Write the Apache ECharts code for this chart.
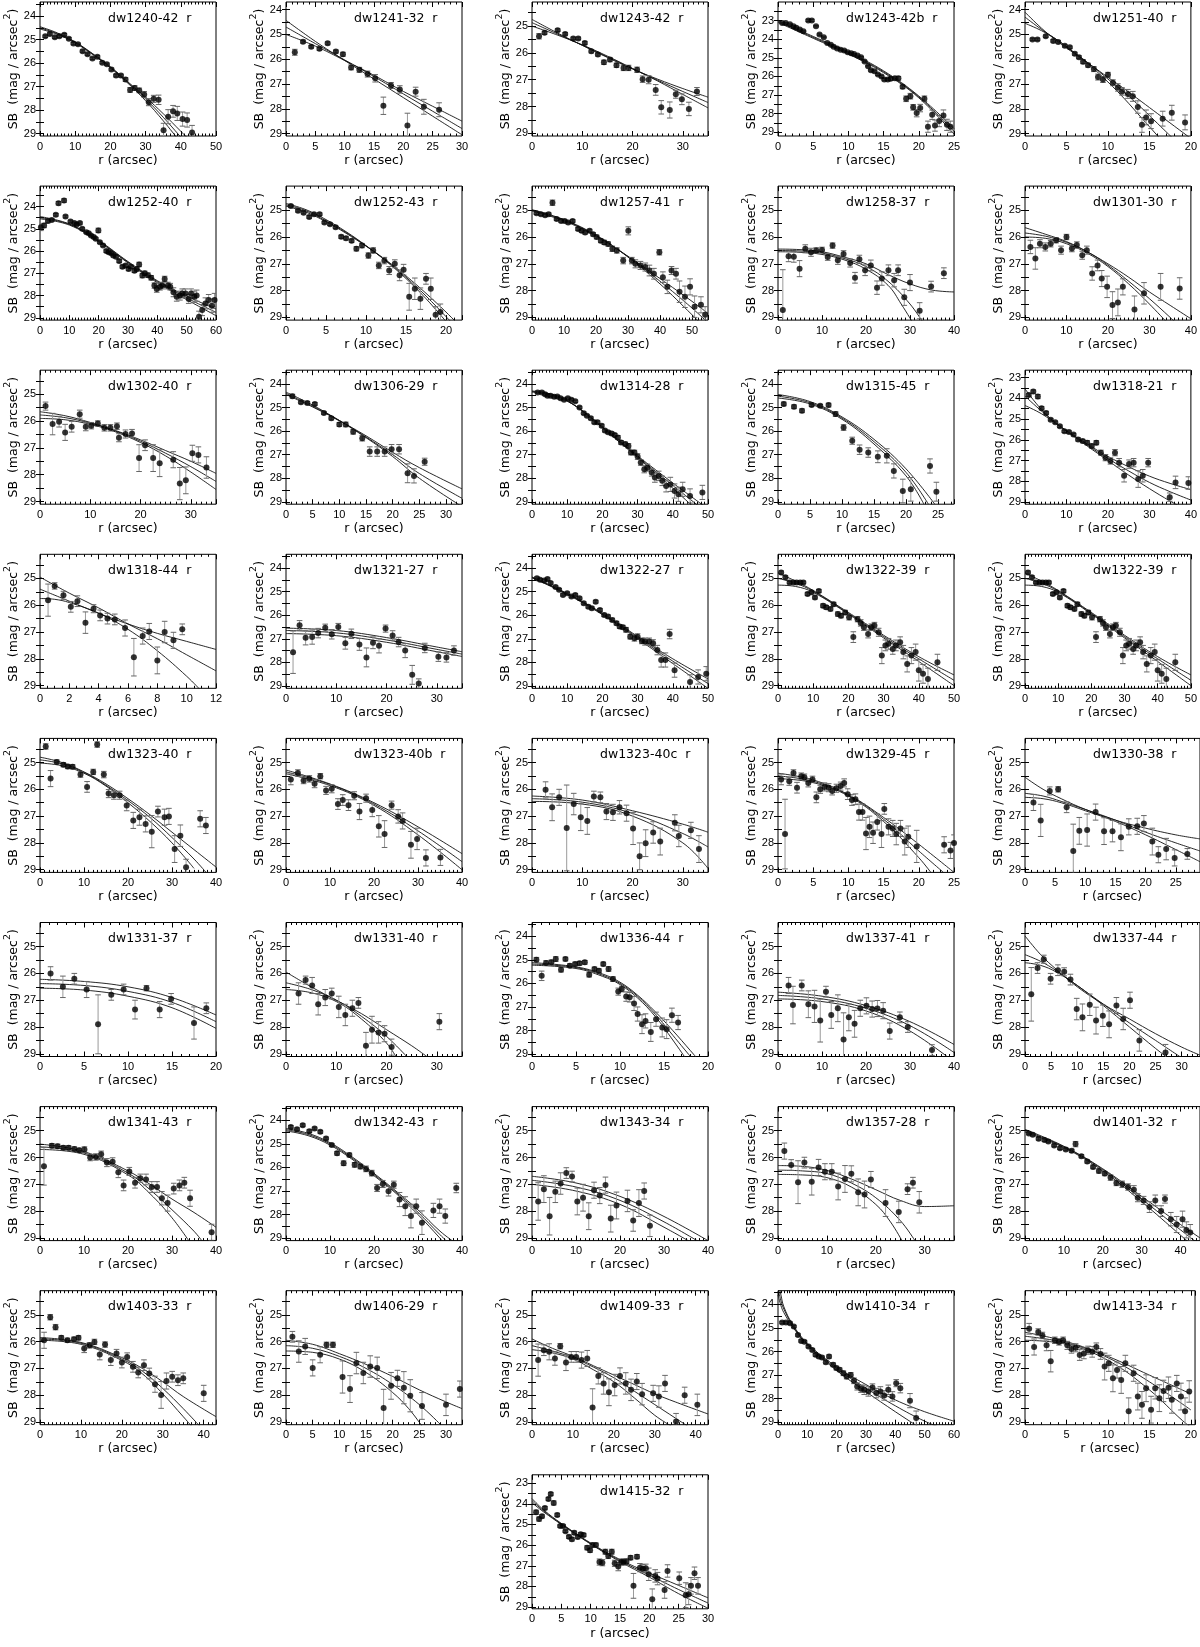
<!DOCTYPE html>
<html><head><meta charset="utf-8">
<script src="https://cdn.jsdelivr.net/npm/echarts@6/dist/echarts.min.js"></script>
<style>html,body{margin:0;padding:0;background:#fff}#c{width:1200px;height:1647px}</style>
</head><body><div id="c"></div>
<script>
// ---------- panel meta ----------
const panelNames = ['dw1240-42','dw1241-32','dw1243-42','dw1243-42b','dw1251-40',
 'dw1252-40','dw1252-43','dw1257-41','dw1258-37','dw1301-30',
 'dw1302-40','dw1306-29','dw1314-28','dw1315-45','dw1318-21',
 'dw1318-44','dw1321-27','dw1322-27','dw1322-39','dw1322-39',
 'dw1323-40','dw1323-40b','dw1323-40c','dw1329-45','dw1330-38',
 'dw1331-37','dw1331-40','dw1336-44','dw1337-41','dw1337-44',
 'dw1341-43','dw1342-43','dw1343-34','dw1357-28','dw1401-32',
 'dw1403-33','dw1406-29','dw1409-33','dw1410-34','dw1413-34','dw1415-32'];
const panelXMax = [50,30,35,25,20, 60,22,55,40,40, 35,33,50,27.5,40, 12,35,50,50,50, 40,40,35,25,29, 20,35,20,40,33.5, 40,40,40,36,45, 43,33,43,60,20.5,30];
const panelXStep = [10,5,10,5,5, 10,5,10,10,10, 10,5,10,5,10, 2,10,10,10,10, 10,10,10,5,5, 5,10,5,10,5, 10,10,10,10,10, 10,5,10,10,5,5];
const panelYTop = [23.4,23.69,24.1,22.0,23.69, 23.08,24.1,24.1,24.1,24.1, 24.1,23.42,23.42,23.42,22.65, 24.1,23.42,23.42,24.1,24.1, 24.1,24.1,24.1,24.1,24.1, 24.1,24.1,23.42,24.1,24.1, 24.1,23.42,24.1,24.1,24.1, 24.1,24.1,24.1,23.42,24.1,22.6];
const panelYBottom = [29.1,29.1,29.1,29.2,29.1, 29.1,29.1,29.1,29.1,29.1, 29.1,29.1,29.1,29.1,29.1, 29.1,29.1,29.1,29.1,29.1, 29.1,29.1,29.1,29.1,29.1, 29.1,29.1,29.1,29.1,29.1, 29.1,29.1,29.1,29.1,29.1, 29.1,29.1,29.1,29.1,29.1,29.08];

// ---------- data: [r, SB, err] and fit curves [r, SB] ----------
const pts01 = [[1.5,24.86,.05],[2.8,24.76,.05],[4.2,24.9,.05],[5.5,24.86,.05],[6.9,24.79,.05],[8.2,24.96,.05],[9.5,25.17,.05],[10.8,25.2,.05],[12.1,25.49,.05],[13.5,25.62,.05],[14.9,25.8,.05],[16.3,25.73,.05],[17.7,25.98,.05],[19,26.05,.05],[20.3,26.27,.06],[21.6,26.53,.06],[23,26.53,.06],[24.3,26.7,.08],[25.6,27.14,.1],[26.9,27.06,.1],[28.2,27.16,.1],[29.6,27.33,.12],[30.9,27.66,.15],[32.3,27.52,.15],[33.7,27.56,.2],[35.1,28.86,.3],[36.4,28.28,.3],[37.8,28.05,.25],[39,28.14,.3],[40.5,28.38,.3],[41.8,28.42,.3],[43.2,28.95,.3]];
const fit01a = [[0,24.45],[5,24.72],[10,25.1],[15,25.6],[20,26.15],[25,26.8],[30,27.45],[35,28.15],[40,28.9],[43,29.35]];
const fit01b = [[0,24.5],[5,24.75],[10,25.12],[15,25.62],[20,26.18],[25,26.83],[30,27.52],[35,28.3],[40,29.15]];
const fit01c = [[0,24.55],[5,24.78],[10,25.14],[15,25.64],[20,26.2],[25,26.86],[30,27.6],[35,28.45],[39,29.2]];

const pts02 = [[1.5,25.72,.12],[2.9,25.29,.06],[4.3,25.5,.05],[5.7,25.58,.06],[7.1,25.36,.06],[8.5,25.69,.06],[9.7,25.8,.08],[11.1,26.33,.1],[12.5,26.43,.1],[13.9,26.6,.12],[15.2,26.77,.15],[16.6,27.88,.35],[17.9,27.06,.12],[19.4,27.22,.15],[20.7,28.68,.5],[22.1,27.31,.18],[23.5,27.92,.3],[26.1,28.04,.28]];
const fit02a = [[0,24.43],[5,25.28],[10,26.05],[15,26.8],[20,27.55],[25,28.3],[30,29.05]];
const fit02b = [[0,24.7],[5,25.37],[10,26.03],[15,26.7],[20,27.4],[25,28.1],[30,28.8]];
const fit02c = [[0,25.0],[5,25.47],[10,26.05],[15,26.65],[20,27.3],[25,27.9],[30,28.5]];

const pts03 = [[1.4,25.38,.1],[2.5,25.25,.06],[5.1,25.15,.05],[6.6,25.29,.05],[8.2,25.46,.05],[9.2,25.46,.05],[10.5,25.63,.06],[11.8,25.94,.06],[13.1,26.06,.06],[14.3,26.35,.08],[15.5,26.25,.08],[16.8,26.46,.08],[18.2,26.56,.1],[19.2,26.56,.1],[20.9,26.63,.1],[22,26.98,.12],[23.2,27.0,.15],[24.6,27.38,.2],[25.7,28.03,.25],[27.4,28.13,.3],[28.6,27.54,.15],[29.8,27.73,.2],[31.2,28.09,.25],[32.8,27.44,.15]];
const fit03a = [[0,24.75],[5,25.25],[10,25.72],[15,26.17],[20,26.6],[25,26.98],[30,27.33],[35,27.65]];
const fit03b = [[0,24.87],[5,25.29],[10,25.71],[15,26.15],[20,26.59],[25,27.02],[30,27.44],[35,27.85]];
const fit03c = [[0,25.0],[5,25.33],[10,25.7],[15,26.12],[20,26.58],[25,27.05],[30,27.55],[35,28.05]];

const pts04 = [[0.6,23.13,.03],[1.1,23.13,.03],[1.7,23.2,.03],[2.2,23.3,.03],[2.6,23.38,.03],[3.1,23.48,.03],[3.6,23.57,.03],[4.3,22.99,.06],[4.8,22.99,.06],[5.4,23.3,.04],[5.9,23.75,.04],[6.5,23.9,.03],[7,24.2,.03],[7.5,24.3,.03],[7.9,24.4,.03],[8.4,24.5,.03],[8.9,24.57,.03],[9.4,24.6,.03],[9.9,24.7,.03],[10.4,24.75,.03],[10.8,24.8,.03],[11.3,24.88,.03],[11.8,24.97,.04],[12.3,25.2,.04],[12.8,25.45,.04],[13.2,25.67,.05],[13.7,25.72,.05],[14.2,25.9,.05],[14.7,26.0,.06],[15.1,26.17,.06],[15.6,26.17,.06],[16,26.13,.08],[16.6,26.1,.08],[17.1,26.1,.1],[17.7,26.56,.1],[18.2,27.2,.15],[18.8,27.06,.15],[19.2,27.66,.15],[19.7,27.97,.2],[20.2,27.7,.2],[20.8,27.2,.15],[21.3,28.7,.3],[21.9,28.06,.25],[22.3,28.64,.3],[22.9,28.4,.3],[23.5,28.1,.3],[24,28.6,.3],[24.5,28.7,.3]];
const fit04a = [[0,23.0],[5,23.85],[10,24.7],[15,25.7],[20,27.05],[25,28.8]];
const fit04b = [[0,23.05],[5,23.9],[10,24.75],[15,25.75],[20,27.1],[25,28.95]];
const fit04c = [[0,23.1],[5,23.95],[10,24.8],[15,25.8],[20,27.15],[25,29.1]];

const pts05 = [[0.9,25.2,.05],[1.5,25.2,.05],[2.5,25.07,.05],[3.4,25.26,.05],[4,25.3,.05],[4.8,25.46,.05],[5.4,25.52,.05],[6,25.78,.06],[6.5,25.92,.06],[7,26.1,.08],[7.6,26.24,.08],[8.3,26.4,.1],[8.8,26.72,.12],[9.4,26.82,.12],[10,26.63,.1],[10.6,26.95,.12],[11.2,27.14,.15],[11.7,27.3,.15],[12.4,27.4,.18],[13,27.5,.2],[13.6,27.93,.25],[14.1,28.65,.3],[14.6,28.35,.3],[15.2,28.5,.3],[16.6,28.4,.3],[17.7,28.16,.3],[19.3,28.55,.3]];
const fit05a = [[0,24.55],[2,24.85],[4,25.25],[6,25.75],[8,26.3],[10,26.92],[12,27.6],[14,28.35],[16,29.1],[17,29.5]];
const fit05b = [[0,24.3],[2,24.8],[4,25.25],[6,25.75],[8,26.25],[10,26.8],[12,27.35],[14,27.95],[16,28.6],[18,29.25]];
const fit05c = [[0,24.1],[2,24.75],[4,25.3],[6,25.78],[8,26.25],[10,26.73],[12,27.2],[14,27.7],[16,28.2],[18,28.7],[20,29.2]];

const pts06 = [[0.3,24.93,.15],[1.4,24.85,.1],[2.7,24.65,.08],[4,24.6,.06],[5.4,24.37,.06],[6.3,23.85,.08],[8.2,23.73,.08],[8.7,24.45,.06],[10.4,24.67,.06],[11.7,24.74,.05],[12.5,24.8,.05],[13.6,24.74,.05],[14.4,25.0,.05],[15.8,25.15,.05],[16.6,25.2,.05],[17.4,25.3,.05],[18.3,25.37,.05],[19,25.45,.05],[19.9,25.07,.1],[20.4,25.6,.05],[21.5,25.75,.05],[22.6,26.0,.06],[23.4,26.05,.06],[24.3,26.1,.06],[25,26.2,.06],[25.9,26.25,.06],[27,26.45,.07],[28.1,26.7,.07],[29.2,26.65,.07],[30.2,26.8,.08],[31,26.7,.08],[32.2,26.88,.08],[33,26.8,.1],[33.8,26.6,.1],[34.9,27.1,.1],[35.7,27.0,.1],[36.8,27.08,.1],[37.9,27.2,.1],[39,27.55,.12],[39.8,27.7,.15],[40.9,27.6,.15],[41.7,27.55,.15],[42.5,27.25,.12],[43.6,27.55,.15],[44.4,27.6,.15],[45.5,27.85,.2],[46.6,28.05,.2],[47.7,28.0,.2],[48.5,27.9,.2],[49.6,27.9,.2],[50.7,28.15,.2],[51.5,27.9,.2],[52.6,28.05,.25],[53.4,28.0,.25],[54.2,28.95,.25],[55.3,28.65,.25],[56.4,28.35,.25],[57.5,28.2,.25],[58.6,28.45,.3],[59.5,28.2,.3]];
const fit06a = [[0,24.45],[10,24.78],[20,25.52],[30,26.47],[40,27.33],[50,28.02],[60,28.6]];
const fit06b = [[0,24.5],[10,24.8],[20,25.55],[30,26.5],[40,27.37],[50,28.1],[60,28.75]];
const fit06c = [[0,24.55],[10,24.83],[20,25.58],[30,26.53],[40,27.42],[50,28.18],[60,28.9]];

const pts07 = [[0.6,24.84,.05],[1.5,25.02,.05],[2.2,25.09,.05],[2.9,25.25,.05],[3.5,25.15,.05],[4.2,25.15,.05],[4.8,25.46,.05],[5.5,25.52,.05],[6.2,25.64,.05],[6.9,25.99,.06],[7.5,26.05,.06],[8.2,26.14,.06],[8.8,26.44,.08],[9.5,26.32,.08],[10.3,26.69,.1],[10.9,26.5,.1],[11.6,27.06,.12],[12.3,26.88,.12],[12.9,27.25,.15],[13.6,27.0,.15],[14.2,27.43,.2],[14.7,27.22,.2],[15.4,28.23,.5],[16.1,27.93,.4],[16.8,28.3,.4],[17.5,27.56,.2],[18.1,27.93,.4],[18.7,28.9,.3],[19.3,28.8,.3]];
const fit07a = [[0,24.75],[2.5,24.98],[5,25.35],[7.5,25.8],[10,26.32],[12.5,26.9],[15,27.55],[17.5,28.3],[20,29.15]];
const fit07b = [[0,24.8],[2.5,25.02],[5,25.4],[7.5,25.83],[10,26.33],[12.5,26.88],[15,27.5],[17.5,28.2],[20,28.97],[22,29.6]];
const fit07c = [[0,24.85],[2.5,25.07],[5,25.43],[7.5,25.86],[10,26.34],[12.5,26.86],[15,27.45],[17.5,28.1],[20,28.8],[22,29.4]];

const pts08 = [[1.4,25.11,.05],[2.8,25.15,.05],[4.1,25.19,.05],[5.2,25.15,.05],[6.4,24.72,.1],[7.7,25.33,.05],[9.1,25.4,.05],[10.2,25.4,.05],[11.3,25.46,.05],[12.7,25.4,.05],[14.4,25.7,.06],[15.5,25.77,.06],[16.6,25.83,.06],[18,25.77,.06],[19.1,25.9,.06],[20.2,26.0,.07],[21.5,26.14,.07],[22.6,26.2,.08],[23.8,26.26,.08],[25.1,26.44,.1],[26.5,26.5,.1],[28.5,26.88,.12],[30.1,25.77,.15],[31.2,26.88,.12],[32.3,27.0,.15],[33.9,27.06,.15],[35.4,27.12,.15],[36.7,27.25,.2],[38.1,27.37,.2],[39.8,26.57,.1],[40.9,27.5,.2],[42.3,27.86,.25],[43.6,27.25,.15],[45,27.37,.2],[46.1,28.04,.4],[47.8,28.23,.4],[49.4,27.86,.3],[50.8,28.6,.4],[52.8,28.53,.3],[54.1,28.9,.3]];
const fit08a = [[0,24.98],[10,25.35],[20,25.93],[30,26.75],[40,27.75],[50,28.9],[55,29.5]];
const fit08b = [[0,25.0],[10,25.37],[20,25.95],[30,26.73],[40,27.65],[50,28.65],[55,29.2]];
const fit08c = [[0,25.03],[10,25.4],[20,25.97],[30,26.72],[40,27.55],[50,28.4],[55,28.85]];

const pts09 = [[1.1,28.72,1.5],[2.4,26.72,.2],[3.6,26.74,.2],[4.9,27.18,.3],[6.2,26.44,.15],[7.5,26.57,.15],[8.7,26.5,.1],[10,26.48,.1],[11.3,26.75,.12],[12.4,26.32,.1],[13.6,26.87,.15],[14.9,26.63,.12],[16.4,26.97,.15],[17.5,27.52,.2],[18.5,26.83,.15],[19.8,27.24,.2],[21.1,27.06,.2],[22.5,27.89,.25],[23.6,27.55,.25],[25.1,27.24,.2],[26.4,27.61,.25],[27.3,27.24,.2],[28.7,28.25,.3],[30,27.7,.3],[32.2,28.75,.3],[34.8,27.85,.2],[37.7,27.35,.2]];
const fit09a = [[0,26.45],[5,26.47],[10,26.55],[15,26.75],[20,27.0],[25,27.4],[30,27.75],[35,27.98],[40,28.05]];
const fit09b = [[0,26.5],[5,26.52],[10,26.6],[15,26.8],[20,27.1],[25,27.65],[30,28.5],[33,29.2]];
const fit09c = [[0,26.55],[5,26.57],[10,26.65],[15,26.85],[20,27.2],[25,27.8],[28,28.5],[31,29.3]];

const pts10 = [[1.3,26.37,.25],[2.5,26.8,.4],[3.6,26.25,.15],[4.9,26.37,.15],[6.2,26.25,.12],[7.5,26.12,.1],[8.7,26.49,.15],[10,26.0,.1],[11.3,26.43,.12],[12.5,26.3,.12],[13.8,26.68,.15],[14.9,26.49,.15],[16.2,27.36,.25],[17.5,27.06,.2],[18.5,27.55,.3],[19.8,27.86,.4],[21.1,28.54,.5],[22.4,28.44,.5],[23.6,27.86,.3],[26.4,28.7,.5],[28.7,28.1,.4],[32.7,27.86,.5],[37.3,27.92,.4]];
const fit10a = [[0,25.65],[5,25.9],[10,26.17],[15,26.55],[20,27.0],[25,27.5],[30,28.05],[35,28.55],[40,29.05]];
const fit10b = [[0,25.85],[5,25.97],[10,26.2],[15,26.55],[20,27.05],[25,27.65],[30,28.3],[35,29.0],[37,29.3]];
const fit10c = [[0,26.0],[5,26.05],[10,26.25],[15,26.6],[20,27.1],[25,27.75],[30,28.5],[34,29.15]];

const pts11 = [[1.1,25.44,.15],[2.5,26.11,.4],[3.8,26.02,.2],[5,26.42,.3],[6.3,26.21,.2],[7.9,25.74,.15],[9.1,26.21,.15],[10.2,26.17,.12],[11.5,26.09,.1],[12.8,26.25,.12],[14,26.25,.12],[15.3,26.19,.12],[15.7,26.62,.15],[17,26.48,.15],[18.3,26.46,.15],[19.7,27.38,.5],[20.9,26.9,.2],[22.5,27.38,.5],[23.8,27.57,.5],[26.5,27.44,.3],[27.8,28.33,.6],[29,28.21,.5],[30.3,27.2,.3],[31.5,27.26,.3],[33.1,27.73,.4]];
const fit11a = [[0,25.65],[5,25.8],[10,26.05],[15,26.35],[20,26.7],[25,27.1],[30,27.5],[35,27.95]];
const fit11b = [[0,25.77],[5,25.87],[10,26.08],[15,26.37],[20,26.75],[25,27.2],[30,27.7],[35,28.25]];
const fit11c = [[0,25.9],[5,25.95],[10,26.12],[15,26.4],[20,26.8],[25,27.3],[30,27.9],[35,28.55]];

const pts12 = [[1.2,24.52,.08],[2.8,24.78,.06],[4,24.81,.06],[5.4,24.85,.06],[7.1,25.23,.06],[8.5,25.46,.07],[10,25.72,.08],[11.2,25.72,.1],[12.6,26.03,.1],[14.3,26.3,.12],[15.7,26.87,.2],[17.1,26.87,.2],[18.5,26.87,.2],[19.8,26.77,.2],[21.2,26.77,.2],[22.8,27.79,.4],[24,27.9,.3],[26,27.3,.15]];
const fit12a = [[0,24.35],[5,24.9],[10,25.55],[15,26.2],[20,26.9],[25,27.55],[33,28.45]];
const fit12b = [[0,24.4],[5,24.95],[10,25.55],[15,26.25],[20,27.0],[25,27.8],[33,28.85]];
const fit12c = [[0,24.45],[5,24.98],[10,25.57],[15,26.28],[20,27.08],[25,28.0],[33,29.2]];

const pts13 = [[1.6,24.36,.05],[2.8,24.36,.05],[3.7,24.44,.05],[4.4,24.5,.05],[5.3,24.5,.05],[6.3,24.55,.05],[7.2,24.54,.05],[8.1,24.61,.05],[9.1,24.67,.05],[10.2,24.61,.05],[11.2,24.67,.05],[12.3,24.74,.05],[13.5,25.0,.05],[14.7,25.24,.05],[15.6,25.35,.05],[16.7,25.46,.06],[17.7,25.63,.06],[18.6,25.63,.06],[19.8,25.77,.06],[20.7,25.98,.06],[21.6,26.05,.06],[22.6,26.1,.07],[23.5,26.17,.07],[24.4,26.27,.08],[25.3,26.48,.08],[26.5,26.55,.08],[27.4,26.63,.1],[28.1,26.91,.1],[29.1,26.91,.1],[30,27.08,.12],[30.9,27.33,.12],[31.9,27.62,.15],[32.8,27.55,.15],[34,27.76,.15],[34.9,27.97,.2],[36,27.9,.2],[37,28.11,.2],[38.1,28.33,.25],[39.3,28.26,.3],[40.5,28.54,.3],[41.6,28.68,.3],[42.8,28.47,.3],[44.9,28.75,.3],[48.4,28.6,.3]];
const fit13a = [[0,24.3],[5,24.42],[10,24.72],[15,25.22],[20,25.82],[25,26.43],[30,27.05],[35,27.63],[40,28.2],[45,28.75],[50,29.3]];
const fit13b = [[0,24.32],[5,24.43],[10,24.72],[15,25.22],[20,25.84],[25,26.46],[30,27.08],[35,27.7],[40,28.3],[45,28.9],[50,29.5]];
const fit13c = [[0,24.35],[5,24.45],[10,24.73],[15,25.23],[20,25.86],[25,26.49],[30,27.12],[35,27.77],[40,28.42],[45,29.1],[50,29.8]];

const pts14 = [[0.9,24.85,.08],[2.5,24.97,.08],[3.75,25.14,.08],[5.25,24.9,.06],[6.6,24.93,.06],[7.9,24.9,.08],[9,25.28,.1],[10.25,25.85,.12],[11.6,26.41,.15],[12.75,26.79,.2],[14.1,26.91,.2],[15.6,27.09,.25],[17,27.05,.3],[18.1,27.69,.3],[19.5,28.54,.5],[20.75,28.47,.5],[23.75,27.48,.3],[24.75,28.57,.4]];
const fit14a = [[0,24.45],[5,24.75],[10,25.4],[15,26.35],[20,27.6],[24.5,29.1]];
const fit14b = [[0,24.52],[5,24.8],[10,25.45],[15,26.45],[20,27.75],[23.5,29.1]];
const fit14c = [[0,24.6],[5,24.85],[10,25.5],[15,26.55],[20,27.9],[22.8,29.1]];

const pts15 = [[0.9,23.84,.08],[2,23.68,.08],[3.1,23.92,.1],[4,24.48,.08],[5.1,24.71,.08],[6.2,25.03,.06],[7.3,25.16,.06],[8.4,25.35,.06],[9.5,25.59,.06],[10.6,25.63,.06],[11.7,25.75,.06],[12.8,25.98,.08],[13.9,26.06,.08],[15,26.14,.1],[16.1,26.3,.1],[17.2,26.14,.1],[18.3,26.62,.12],[19.4,26.86,.15],[20.6,27.02,.15],[21.7,26.62,.15],[22.7,27.1,.2],[23.9,27.73,.3],[25.1,27.17,.2],[26.2,27.1,.2],[27.3,27.89,.4],[28.4,27.73,.3],[29.7,27.1,.2],[34.9,28.76,.2],[36.3,28.05,.3],[39.4,28.08,.3]];
const fit15a = [[0,23.55],[4,24.55],[8,25.28],[15,26.2],[20,26.8],[25,27.3],[30,27.75],[35,28.1],[40,28.4]];
const fit15b = [[0,23.9],[4,24.62],[8,25.27],[15,26.25],[20,26.9],[25,27.5],[30,28.05],[35,28.5],[40,28.9]];
const fit15c = [[0,24.35],[4,24.75],[8,25.3],[15,26.3],[20,27.0],[25,27.7],[30,28.35],[35,28.95],[40,29.5]];

const pts16 = [[0.55,25.81,.6],[1,25.28,.12],[1.6,25.63,.15],[2.1,26.06,.2],[2.55,25.85,.2],[3.1,26.65,.4],[3.65,26.13,.15],[4.1,26.38,.2],[4.6,26.5,.2],[5.1,26.53,.2],[5.8,26.85,.3],[6.4,27.94,.7],[7,27.15,.3],[7.45,26.98,.3],[8,28.06,.5],[8.5,27.0,.4],[9.1,27.31,.3],[9.7,26.9,.2]];
const fit16a = [[0,25.4],[2,25.85],[4,26.3],[6,26.7],[8,27.05],[10,27.35],[12,27.65]];
const fit16b = [[0,24.95],[2,25.55],[4,26.1],[6,26.7],[8,27.25],[10,27.85],[12,28.45]];
const fit16c = [[0,25.75],[1,25.78],[2,25.9],[4,26.3],[6,26.9],[8,27.7],[10,28.65],[11,29.2]];

const pts17 = [[1.4,27.57,.9],[2.7,26.43,.2],[3.9,26.96,.3],[5.2,26.93,.3],[6.4,26.76,.2],[7.8,26.53,.15],[9.1,26.81,.2],[10.4,26.5,.15],[11.8,27.19,.25],[13,26.79,.2],[14.6,27.24,.25],[16,27.79,.4],[17.3,27.17,.25],[18.5,27.3,.3],[19.8,26.57,.15],[21.2,26.86,.2],[22.4,27.14,.2],[23.7,27.5,.3],[25.1,28.53,.4],[26.4,28.9,.2],[27.6,27.39,.2],[30.3,27.76,.2],[31.9,27.79,.2],[33.4,27.5,.2]];
const fit17a = [[0,26.55],[10,26.65],[20,26.95],[30,27.35],[35,27.55]];
const fit17b = [[0,26.65],[10,26.75],[20,27.05],[30,27.45],[35,27.65]];
const fit17c = [[0,26.78],[10,26.87],[20,27.15],[30,27.55],[35,27.75]];

const pts18 = [[1.4,24.43,.05],[2.3,24.5,.05],[3.5,24.53,.05],[4.4,24.47,.05],[5.3,24.64,.05],[6.7,24.81,.05],[7.7,24.92,.05],[8.8,25.14,.05],[10,25.07,.05],[11.2,25.21,.05],[12.3,25.14,.05],[13.5,25.28,.05],[14.7,25.5,.06],[16,25.64,.06],[17,25.71,.06],[18.1,25.43,.06],[19.3,25.78,.06],[20.5,25.99,.07],[21.6,26.06,.07],[22.8,26.2,.07],[24,26.34,.08],[24.9,26.48,.08],[25.8,26.51,.08],[26.7,26.62,.1],[27.9,26.91,.1],[29.1,26.98,.12],[30,26.91,.12],[31.2,27.09,.12],[32.1,27.12,.15],[33.3,27.12,.15],[34.4,27.19,.15],[35.6,27.48,.2],[36.7,27.9,.3],[37.9,27.9,.3],[39.1,26.8,.2],[40.5,28.33,.3],[44.9,28.83,.3],[47.2,28.62,.3],[49.5,28.48,.3]];
const fit18a = [[0,24.38],[10,25.08],[20,25.92],[30,26.9],[40,27.85],[50,28.7]];
const fit18b = [[0,24.4],[10,25.1],[20,25.95],[30,26.95],[40,27.95],[50,28.9]];
const fit18c = [[0,24.42],[10,25.12],[20,25.98],[30,27.0],[40,28.05],[50,29.1]];

const pts19 = [[0.9,24.78,.06],[2.1,24.96,.06],[3.3,25.15,.05],[4.4,25.15,.05],[5.3,25.15,.05],[6.3,25.15,.05],[7.2,25.15,.05],[8.4,25.58,.06],[9.5,25.52,.06],[10.5,25.71,.06],[11.6,25.47,.06],[12.8,26.02,.07],[13.7,26.08,.07],[14.9,26.14,.07],[15.8,25.96,.07],[17,26.33,.08],[17.9,26.39,.08],[19.1,26.27,.08],[20.2,26.45,.1],[21.4,27.19,.2],[22.6,26.52,.1],[23.5,26.66,.12],[24.4,26.82,.12],[25.6,27.07,.15],[26.5,26.82,.12],[27.4,26.76,.12],[28.6,27.01,.15],[29.5,27.88,.3],[30.5,27.5,.2],[31.4,27.44,.2],[32.6,27.63,.2],[33.5,27.5,.2],[34.7,27.38,.2],[35.6,27.75,.25],[36.7,28.19,.3],[37.9,27.88,.3],[39.1,27.75,.3],[40,28.43,.4],[41.2,28.56,.35],[42.6,28.75,.4],[45.3,28.13,.3]];
const fit19a = [[0,24.8],[5,25.1],[10,25.45],[20,26.27],[30,27.12],[40,27.92],[50,28.6]];
const fit19b = [[0,25.0],[5,25.18],[10,25.48],[20,26.3],[30,27.17],[40,28.0],[50,28.8]];
const fit19c = [[0,25.25],[5,25.3],[10,25.52],[20,26.33],[30,27.22],[40,28.1],[50,29.0]];

const pts21 = [[1.3,24.4,.1],[2.4,25.6,.3],[3.8,24.98,.08],[5.3,25.08,.08],[6.3,25.15,.08],[7.4,25.16,.08],[9.2,25.45,.1],[10.7,25.91,.2],[12.1,25.35,.1],[13,24.33,.1],[14.5,25.45,.12],[15.6,26.16,.15],[16.8,26.22,.15],[18.1,26.22,.15],[19.7,26.6,.2],[21.2,27.16,.3],[22.6,27.04,.3],[24,27.29,.3],[25.4,27.58,.6],[26.8,26.83,.2],[28.3,27.04,.3],[29.3,27.01,.3],[30.6,28.23,.5],[31.9,27.73,.4],[33.2,28.91,.3],[36.4,27.1,.3],[37.7,27.35,.3]];
const fit21a = [[0,24.8],[5,25.0],[10,25.35],[15,25.8],[20,26.35],[25,26.95],[30,27.6],[35,28.25],[40,28.9]];
const fit21b = [[0,24.9],[5,25.05],[10,25.37],[15,25.85],[20,26.42],[25,27.05],[30,27.8],[35,28.6],[38,29.15]];
const fit21c = [[0,25.02],[5,25.12],[10,25.4],[15,25.88],[20,26.5],[25,27.2],[30,28.0],[35,28.95]];

const pts22 = [[1.1,25.63,.2],[2.7,25.39,.12],[4,25.67,.12],[5.3,25.61,.12],[6.5,25.79,.15],[7.8,25.51,.1],[9.1,26.04,.15],[10.4,25.98,.15],[11.8,26.55,.2],[12.9,26.4,.2],[14.2,26.59,.2],[15.5,26.24,.15],[16.7,26.83,.3],[18.2,26.33,.15],[19.6,26.77,.25],[21.1,27.38,.4],[22.4,27.67,.5],[24,26.59,.15],[25.5,27.01,.25],[26.5,27.18,.3],[28.4,28.07,.5],[29.8,27.85,.4],[31.8,28.56,.3],[35.1,28.54,.3]];
const fit22a = [[0,25.28],[10,25.8],[20,26.5],[30,27.4],[40,28.4]];
const fit22b = [[0,25.35],[10,25.82],[20,26.55],[30,27.55],[40,28.7]];
const fit22c = [[0,25.42],[10,25.86],[20,26.6],[30,27.7],[40,29.0]];

const pts23 = [[2.7,26.02,.3],[4,26.67,.5],[5.4,26.3,.3],[6.9,27.44,1.6],[8.3,26.55,.4],[9.7,27.04,.5],[11,27.18,.5],[12.3,26.27,.2],[13.6,26.3,.2],[14.8,26.83,.3],[16.1,26.86,.3],[17.4,26.67,.25],[18.8,26.89,.3],[20.1,27.46,.6],[21.4,28.5,.5],[22.6,28.01,.5],[24.1,27.61,.4],[25.5,27.95,.5],[28.4,27.25,.3],[29.2,27.74,.4],[31.6,27.53,.3],[33.2,28.23,.5]];
const fit23a = [[0,26.25],[10,26.4],[20,26.8],[30,27.3],[35,27.6]];
const fit23b = [[0,26.35],[10,26.48],[20,26.9],[30,27.65],[35,28.15]];
const fit23c = [[0,26.45],[10,26.55],[20,27.0],[30,28.0],[35,28.95]];

const pts24 = [[0.45,25.63,.2],[1,27.67,1.3],[1.6,25.7,.15],[2.2,25.39,.12],[2.7,25.94,.2],[3.3,25.51,.12],[3.75,25.55,.12],[4.3,25.76,.15],[4.9,25.63,.12],[5.45,26.3,.2],[6,26.0,.15],[6.6,25.91,.15],[7.2,25.94,.15],[7.7,26.06,.15],[8.3,25.96,.15],[8.9,25.88,.15],[9.4,25.76,.15],[9.9,26.18,.2],[10.5,26.4,.2],[11,26.37,.2],[11.5,26.85,.3],[12,26.85,.3],[12.5,27.65,.6],[13,27.4,.4],[13.5,27.62,.4],[14.1,27.22,.3],[14.7,27.67,.5],[15.1,26.73,.2],[15.7,27.4,.3],[16.3,27.46,.3],[16.8,27.67,.4],[17.4,27.46,.3],[18,27.95,.5],[18.5,27.77,.4],[19.7,28.13,.6],[23.6,28.07,.3],[24.5,28.28,.3],[25,28.0,.3]];
const fit24a = [[0,25.4],[5,25.65],[10,26.2],[15,27.05],[20,28.05],[25,29.1]];
const fit24b = [[0,25.5],[5,25.7],[10,26.22],[15,27.12],[20,28.3],[23.5,29.1]];
const fit24c = [[0,25.6],[5,25.75],[10,26.25],[15,27.2],[20,28.55],[22,29.2]];

const pts25 = [[1.4,26.49,.3],[2.6,27.16,.6],[4.1,26.06,.15],[5.5,26.0,.1],[6.9,26.67,.2],[8,28.3,1.0],[9,27.55,.5],[10.3,27.52,.6],[11.7,26.85,.3],[13.1,27.56,.5],[14.5,27.56,.4],[15.9,27.79,.5],[17.2,27.4,.3],[18.6,27.38,.3],[19.7,27.28,.3],[21.1,27.95,.5],[22.1,28.44,.3],[23.4,28.23,.4],[24.8,28.56,.3],[26.9,28.41,.2]];
const fit25a = [[0,25.55],[3,26.0],[6,26.35],[10,26.75],[15,27.15],[20,27.45],[25,27.7],[29,27.85]];
const fit25b = [[0,26.15],[3,26.25],[6,26.45],[10,26.75],[15,27.15],[20,27.6],[25,28.0],[29,28.3]];
const fit25c = [[0,26.3],[3,26.35],[6,26.5],[10,26.8],[15,27.2],[20,27.7],[25,28.25],[29,28.7]];

const pts26 = [[1.2,26.0,.25],[2.6,26.5,.4],[3.9,26.2,.2],[5.3,26.6,.3],[6.6,27.9,1.1],[8.1,26.8,.2],[9.5,26.6,.2],[10.8,27.35,.35],[12.1,26.55,.1],[13.6,27.35,.3],[14.9,26.95,.2],[17.5,27.85,.6],[18.9,27.3,.2]];
const fit26a = [[0,26.22],[5,26.3],[10,26.5],[15,26.9],[20,27.55]];
const fit26b = [[0,26.38],[5,26.45],[10,26.67],[15,27.08],[20,27.8]];
const fit26c = [[0,26.55],[5,26.62],[10,26.85],[15,27.28],[20,28.05]];

const pts27 = [[2.5,26.75,.4],[3.9,26.25,.15],[5.2,26.45,.3],[6.4,27.15,.4],[7.8,26.9,.3],[9.1,26.75,.2],[10.5,27.25,.4],[11.8,27.55,.4],[13.2,27.3,.3],[14.4,27.1,.2],[15.9,28.7,.5],[17.1,28.1,.5],[18.4,28.2,.4],[19.6,28.25,.3],[21,28.75,.3],[30.5,27.8,.3]];
const fit27a = [[0,25.95],[5,26.5],[10,27.0],[15,27.5],[20,28.1],[25,28.7],[28,29.1]];
const fit27b = [[0,26.35],[5,26.6],[10,27.0],[15,27.6],[20,28.35],[24,29.1]];
const fit27c = [[0,26.6],[5,26.72],[10,27.05],[15,27.7],[20,28.6],[22,29.15]];

const pts28 = [[0.5,25.0,.1],[1.1,25.68,.2],[1.6,25.14,.1],[2.2,25.11,.1],[2.7,24.97,.1],[3.3,25.42,.1],[3.8,24.97,.08],[4.3,25.25,.08],[4.9,25.18,.08],[5.4,25.15,.08],[6,25.11,.08],[6.5,25.63,.1],[7.1,25.39,.08],[7.6,25.46,.08],[8.1,25.18,.08],[8.7,25.39,.1],[9.2,25.82,.1],[9.8,26.35,.15],[10.2,26.24,.12],[10.7,26.56,.2],[11.1,26.59,.2],[11.6,26.85,.3],[12,27.3,.3],[12.5,27.73,.4],[12.9,27.59,.3],[13.5,28.06,.4],[14.1,27.52,.3],[14.8,27.87,.4],[15.3,27.94,.4],[15.9,27.35,.3],[16.6,27.66,.3]];
const fit28a = [[0,25.12],[5,25.3],[8,25.6],[10,25.95],[12,26.5],[14,27.2],[16,28.0],[18,28.85],[19.5,29.5]];
const fit28b = [[0,25.18],[5,25.33],[8,25.65],[10,26.0],[12,26.55],[14,27.3],[16,28.2],[18,29.1]];
const fit28c = [[0,25.23],[5,25.37],[8,25.7],[10,26.05],[12,26.62],[14,27.4],[16,28.4],[17.5,29.2]];

const pts29 = [[2.4,26.45,.3],[3.4,27.18,.7],[5.4,26.45,.2],[6.9,27.15,.5],[8.3,27.23,.6],[9.6,27.76,.8],[10.9,26.68,.2],[12.1,27.55,.5],[13.6,27.3,.5],[14.9,28.47,1.0],[16.1,27.64,.5],[17.4,27.88,.5],[18.7,27.3,.3],[20.1,27.21,.3],[21.4,27.33,.3],[22.6,27.31,.3],[23.9,27.39,.3],[25.4,28.15,.3],[27.7,27.64,.2],[29.5,28.0,.2],[35,28.86,.2]];
const fit29a = [[0,26.7],[10,26.85],[20,27.2],[30,27.8],[40,28.65]];
const fit29b = [[0,26.82],[10,26.95],[20,27.3],[30,27.95],[40,28.95]];
const fit29c = [[0,26.95],[10,27.05],[20,27.4],[30,28.15],[40,29.3]];

const pts30 = [[1.2,26.78,1.0],[2.4,25.8,.2],[3.6,25.47,.15],[4.9,26.2,.2],[6.3,25.88,.2],[7.5,25.94,.15],[8.7,26.23,.2],[9.9,27.33,.4],[11,27.64,.5],[12.4,27.17,.4],[13.6,27.76,.5],[14.9,27.58,.4],[16.1,27.9,.5],[17.5,27.2,.3],[18.8,27.7,.4],[20.1,27.0,.3],[21.9,28.5,.4],[26.9,28.95,.3]];
const fit30a = [[0,24.6],[3,25.3],[6,25.85],[10,26.5],[15,27.15],[20,27.7],[25,28.25],[30,28.75],[33.5,29.05]];
const fit30b = [[0,25.3],[3,25.55],[6,25.9],[10,26.45],[15,27.15],[20,27.85],[25,28.5],[30,29.15]];
const fit30c = [[0,25.6],[3,25.7],[6,25.95],[10,26.45],[15,27.2],[20,28.0],[25,28.8],[28,29.25]];

const pts31 = [[0.9,26.33,.7],[2.7,25.56,.08],[4,25.58,.08],[5.3,25.64,.08],[6.5,25.64,.08],[7.8,25.68,.08],[8.9,25.73,.08],[10.1,25.7,.1],[11.4,26.0,.12],[12.7,25.98,.12],[13.9,25.88,.12],[15.2,26.19,.15],[16.5,26.16,.15],[17.8,26.55,.2],[19,27.04,.2],[20.3,26.52,.15],[21.6,26.94,.2],[22.8,26.77,.15],[24.1,26.82,.2],[25.4,27.1,.2],[26.6,27.1,.2],[27.7,27.52,.25],[29,27.7,.3],[30.4,27.16,.2],[31.7,27.04,.2],[32.8,26.94,.2],[34.1,27.52,.3],[39,28.79,.3]];
const fit31a = [[0,25.5],[10,25.78],[20,26.5],[25,27.0],[30,27.55],[35,28.05],[40,28.6]];
const fit31b = [[0,25.6],[10,25.83],[20,26.58],[25,27.2],[30,27.95],[35,28.75],[37,29.15]];
const fit31c = [[0,25.7],[10,25.88],[20,26.65],[25,27.35],[30,28.25],[34,29.15]];

const pts32 = [[1.1,24.28,.06],[2.5,24.38,.06],[3.8,24.21,.06],[5.3,24.46,.06],[6.5,24.35,.06],[7.8,24.49,.06],[9.1,24.77,.06],[10.4,25.05,.06],[11.6,25.4,.08],[13.1,25.82,.1],[14.4,25.47,.08],[15.6,25.89,.1],[16.9,25.96,.1],[18.2,26.06,.12],[19.5,26.24,.12],[20.7,26.87,.15],[22,26.7,.15],[23.3,27.01,.2],[24.5,26.73,.15],[25.8,27.36,.3],[27.1,27.64,.4],[28.4,28.06,.5],[29.6,27.64,.3],[30.9,28.34,.5],[33.5,27.82,.3],[34.9,27.64,.3],[36.2,28.06,.3],[38.7,26.87,.2]];
const fit32a = [[0,24.35],[5,24.55],[10,24.95],[15,25.55],[20,26.25],[25,27.0],[30,27.8],[35,28.7],[38.5,29.2]];
const fit32b = [[0,24.4],[5,24.6],[10,25.0],[15,25.6],[20,26.3],[25,27.05],[30,27.9],[35,28.85],[37.5,29.3]];
const fit32c = [[0,24.45],[5,24.65],[10,25.05],[15,25.65],[20,26.35],[25,27.1],[30,28.0],[35,29.0],[36.5,29.35]];

const pts33 = [[1.4,27.64,.7],[2.7,27.18,.5],[4,28.19,.7],[5.3,27.28,.4],[6.5,26.97,.4],[7.8,26.58,.2],[9.1,26.71,.2],[10.3,27.64,.5],[11.6,27.5,.5],[12.9,28.19,.5],[14.1,27.22,.3],[15.4,27.42,.3],[16.7,27.03,.3],[17.9,28.28,.5],[19.2,27.79,.5],[21.7,27.62,.4],[23,28.35,.4],[24.3,27.7,.5],[25.5,27.25,.3],[26.8,28.55,.4]];
const fit33a = [[0,26.7],[10,26.95],[20,27.45],[30,28.2],[40,29.1]];
const fit33b = [[0,26.85],[10,27.1],[20,27.6],[30,28.4],[38,29.15]];
const fit33c = [[0,27.0],[10,27.25],[20,27.75],[30,28.6],[36,29.15]];

const pts34 = [[1.3,25.76,.3],[2.7,26.28,.2],[4.1,26.92,.8],[5.4,26.19,.2],[6.9,26.9,.5],[8.3,26.37,.3],[9.6,26.53,.3],[11,26.53,.3],[12.3,27.08,.5],[13.7,26.8,.5],[15,26.61,.3],[16.4,27.3,.5],[17.7,27.38,.5],[19,26.82,.3],[22,27.7,.5],[24.7,28.03,.4],[26.5,27.18,.2],[27.6,26.94,.2],[28.9,27.67,.4]];
const fit34a = [[0,26.3],[5,26.33],[10,26.48],[15,26.8],[20,27.2],[25,27.6],[30,27.83],[36,27.8]];
const fit34b = [[0,26.47],[5,26.5],[10,26.6],[15,26.95],[20,27.5],[25,28.35],[28,29.1]];
const fit34c = [[0,26.63],[5,26.65],[10,26.75],[15,27.1],[20,27.75],[23,28.4],[25.5,29.15]];

const pts35 = [[1,25.1,.05],[2,25.15,.05],[3.5,25.3,.05],[5,25.35,.05],[6,25.4,.05],[7.5,25.55,.05],[9,25.65,.05],[10.5,25.7,.05],[12,25.75,.06],[13,25.5,.1],[14.5,25.95,.06],[16,26.15,.06],[17.5,26.35,.07],[19,26.5,.08],[20.5,26.6,.08],[22,26.75,.1],[23.5,26.95,.1],[25,27.0,.12],[26.5,27.1,.12],[28,27.2,.15],[29,27.5,.15],[30.5,27.6,.15],[32,27.85,.2],[33.5,27.6,.2],[35,28.0,.2],[36,27.55,.15],[37.5,28.3,.25],[39,28.5,.3],[40.5,28.3,.3],[41.5,28.7,.3],[42.5,28.8,.3]];
const fit35a = [[0,24.95],[10,25.58],[20,26.42],[30,27.45],[40,28.5],[45,29.0]];
const fit35b = [[0,25.0],[10,25.6],[20,26.45],[30,27.55],[40,28.7],[44,29.15]];
const fit35c = [[0,25.05],[10,25.63],[20,26.5],[30,27.65],[40,28.9],[42,29.15]];

const pts36 = [[1,25.95,.3],[2.5,25.09,.1],[3.8,25.46,.1],[5.2,25.86,.08],[6.7,25.95,.08],[8.3,25.91,.08],[9.4,25.86,.08],[10.8,26.26,.15],[12.1,26.14,.1],[13.3,26.01,.1],[14.6,26.48,.2],[15.9,26.11,.1],[17.3,26.69,.2],[18.7,26.44,.15],[20,26.78,.2],[21.3,26.57,.15],[22.7,26.94,.2],[24,27.15,.2],[25.4,26.88,.2],[26.7,27.19,.2],[28.1,27.59,.3],[29.6,27.99,.5],[30.9,27.47,.3],[32.3,27.31,.2],[33.7,27.44,.2],[35,27.37,.2],[40,27.93,.3]];
const fit36a = [[0,25.85],[10,26.03],[20,26.6],[25,27.0],[30,27.5],[35,28.05],[43,28.8]];
const fit36b = [[0,25.9],[10,26.06],[20,26.65],[25,27.1],[30,27.75],[35,28.5],[39,29.15]];
const fit36c = [[0,25.95],[10,26.1],[20,26.7],[25,27.2],[30,27.95],[35,28.8],[37,29.15]];

const pts37 = [[1.2,25.82,.2],[2.4,26.37,.4],[3.6,26.18,.3],[5,26.98,.3],[6.4,26.49,.3],[7.6,26.12,.1],[8.8,26.12,.1],[10.6,27.32,.6],[12,27.77,.5],[13.2,26.8,.4],[14.5,27.17,.4],[15.8,26.93,.4],[17.1,26.98,.4],[18.3,28.48,.7],[19.7,27.65,.5],[20.9,27.37,.3],[22.1,27.72,.6],[23.3,28.02,.6],[25.5,28.4,.5],[30,28.36,.4],[32.6,27.77,.3]];
const fit37a = [[0,25.95],[5,26.1],[10,26.45],[15,26.85],[20,27.3],[25,27.8],[30,28.25],[33,28.5]];
const fit37b = [[0,26.15],[5,26.25],[10,26.55],[15,27.0],[20,27.6],[25,28.35],[29,29.1]];
const fit37c = [[0,26.35],[5,26.4],[10,26.65],[15,27.15],[20,27.9],[23,28.5],[25.5,29.15]];

const pts38 = [[1.5,26.69,.6],[2.9,26.32,.2],[4.2,26.38,.3],[5.6,26.63,.25],[6.9,26.17,.1],[8.3,26.78,.3],[9.6,26.57,.2],[10.8,26.57,.2],[12.1,26.69,.3],[13.5,26.63,.3],[14.8,28.46,.7],[16.2,27.28,.3],[17.5,27.56,.4],[18.8,27.89,.5],[20.2,27.62,.4],[21.5,27.28,.3],[22.9,27.56,.4],[24.2,27.8,.4],[25.6,27.49,.3],[26.9,27.96,.4],[29.6,27.93,.3],[31,28.05,.4],[32.5,27.56,.3],[35.2,28.98,.3],[37.3,28.0,.3],[40.4,28.36,.4]];
const fit38a = [[0,25.9],[5,26.25],[10,26.55],[15,26.9],[20,27.25],[25,27.6],[30,27.95],[35,28.25],[43,28.7]];
const fit38b = [[0,26.15],[5,26.35],[10,26.6],[15,26.95],[20,27.35],[25,27.85],[30,28.35],[35,28.85],[38,29.15]];
const fit38c = [[0,26.3],[5,26.42],[10,26.65],[15,27.05],[20,27.5],[25,28.1],[30,28.75],[34,29.15]];

const pts39 = [[1.4,24.77,.05],[2.7,24.77,.05],[4.1,24.8,.05],[5.4,24.94,.05],[6.8,25.3,.05],[7.9,25.55,.05],[9,25.58,.05],[10.4,25.79,.05],[11.7,25.93,.05],[12.8,26.14,.06],[13.9,26.21,.06],[15,26.25,.06],[16.3,26.45,.07],[17.4,26.21,.07],[18.8,26.56,.08],[19.9,26.7,.08],[21,26.77,.08],[22.3,26.92,.1],[23.4,27.06,.1],[24.8,26.99,.1],[25.9,27.24,.12],[27,27.48,.15],[28.3,27.58,.15],[29.4,27.62,.2],[30.8,27.69,.2],[32.2,27.52,.15],[33.5,27.76,.2],[34.9,27.69,.2],[36.2,27.86,.2],[37.6,27.62,.2],[39,27.9,.2],[40.3,27.34,.15],[41.7,27.55,.2],[45,28.08,.3],[47.1,28.82,.3]];
const fit39a = [[0,23.0],[1,23.6],[2,24.1],[5,24.85],[10,25.65],[20,26.65],[30,27.4],[40,28.05],[50,28.55],[60,28.95]];
const fit39b = [[0,23.3],[1,23.85],[2,24.2],[5,24.9],[10,25.7],[20,26.72],[30,27.55],[40,28.3],[50,28.95],[57,29.3]];
const fit39c = [[0,23.6],[1,24.05],[2,24.35],[5,24.95],[10,25.72],[20,26.8],[30,27.7],[40,28.55],[48,29.2]];

const pts40 = [[0.5,25.52,.2],[1.1,26.2,.3],[1.6,25.64,.12],[2.1,25.77,.12],[2.6,26.14,.2],[3.1,26.73,.4],[3.6,25.95,.12],[4.1,26.01,.12],[4.6,25.95,.12],[5.1,26.14,.15],[5.6,26.28,.15],[6.1,26.23,.15],[6.6,26.5,.2],[7.1,26.44,.2],[7.6,26.32,.15],[8.1,26.38,.2],[8.6,26.2,.15],[9.1,26.46,.2],[9.6,26.93,.5],[10.1,26.81,.3],[10.6,27.37,.5],[11.1,27.06,.3],[11.6,27.43,.5],[12.1,26.81,.3],[12.5,28.6,.5],[13.1,27.18,.3],[13.6,28.05,.5],[14.1,28.36,.5],[14.6,27.74,.5],[15.2,28.54,.5],[15.7,27.74,.4],[16.2,28.11,.5],[16.7,27.84,.4],[17.3,27.72,.4],[17.7,28.17,.5],[18.3,27.56,.3],[18.8,28.05,.5],[19.3,28.6,.5],[19.8,27.86,.4]];
const fit40a = [[0,25.65],[5,26.0],[10,26.55],[15,27.25],[20,27.95]];
const fit40b = [[0,25.8],[5,26.05],[10,26.6],[15,27.5],[20,28.55]];
const fit40c = [[0,25.95],[5,26.1],[10,26.7],[15,27.8],[19,28.95],[20.5,29.3]];

const pts41 = [[0.7,24.41,.1],[1.2,24.74,.1],[1.7,24.61,.08],[2.2,24.21,.08],[2.8,23.77,.08],[3.2,23.53,.08],[3.7,23.96,.1],[4.3,24.54,.08],[4.8,25.08,.06],[5.3,25.08,.06],[5.7,25.33,.06],[6.3,25.6,.08],[6.8,25.72,.08],[7.2,25.4,.08],[7.8,25.61,.08],[8.3,25.48,.08],[8.8,25.51,.08],[9.4,26.13,.1],[9.9,26.25,.1],[10.3,26.0,.1],[10.9,26.0,.1],[11.5,26.82,.15],[12,26.85,.15],[12.5,26.32,.12],[13,26.53,.12],[13.6,26.32,.12],[14.1,26.88,.15],[14.7,27.04,.2],[15.2,26.82,.15],[15.6,26.82,.15],[16.1,26.8,.15],[16.8,26.61,.1],[17.3,27.97,.6],[17.9,26.56,.1],[18.4,27.09,.2],[18.9,27.14,.2],[19.4,27.12,.2],[19.9,27.41,.3],[20.5,28.62,.5],[21,27.49,.3],[21.4,27.62,.3],[22.6,28.17,.4],[23.1,27.25,.3],[25.1,27.6,.3],[26.2,28.42,.6],[26.7,28.38,.5],[27.1,27.97,.4],[27.7,27.36,.3],[28.3,27.97,.4]];
const fit41a = [[0,23.75],[2,24.3],[5,24.95],[10,25.9],[15,26.7],[20,27.35],[25,27.95],[30,28.55]];
const fit41b = [[0,23.85],[2,24.35],[5,24.98],[10,25.93],[15,26.75],[20,27.45],[25,28.15],[30,28.8]];
const fit41c = [[0,23.95],[2,24.4],[5,25.0],[10,25.95],[15,26.8],[20,27.55],[25,28.35],[30,29.05]];

const panelPoints = [pts01,pts02,pts03,pts04,pts05,pts06,pts07,pts08,pts09,pts10,pts11,pts12,pts13,pts14,pts15,pts16,pts17,pts18,pts19,pts19,pts21,pts22,pts23,pts24,pts25,pts26,pts27,pts28,pts29,pts30,pts31,pts32,pts33,pts34,pts35,pts36,pts37,pts38,pts39,pts40,pts41];
const panelFits = [[fit01a,fit01b,fit01c],[fit02a,fit02b,fit02c],[fit03a,fit03b,fit03c],[fit04a,fit04b,fit04c],[fit05a,fit05b,fit05c],
 [fit06a,fit06b,fit06c],[fit07a,fit07b,fit07c],[fit08a,fit08b,fit08c],[fit09a,fit09b,fit09c],[fit10a,fit10b,fit10c],
 [fit11a,fit11b,fit11c],[fit12a,fit12b,fit12c],[fit13a,fit13b,fit13c],[fit14a,fit14b,fit14c],[fit15a,fit15b,fit15c],
 [fit16a,fit16b,fit16c],[fit17a,fit17b,fit17c],[fit18a,fit18b,fit18c],[fit19a,fit19b,fit19c],[fit19a,fit19b,fit19c],
 [fit21a,fit21b,fit21c],[fit22a,fit22b,fit22c],[fit23a,fit23b,fit23c],[fit24a,fit24b,fit24c],[fit25a,fit25b,fit25c],
 [fit26a,fit26b,fit26c],[fit27a,fit27b,fit27c],[fit28a,fit28b,fit28c],[fit29a,fit29b,fit29c],[fit30a,fit30b,fit30c],
 [fit31a,fit31b,fit31c],[fit32a,fit32b,fit32c],[fit33a,fit33b,fit33c],[fit34a,fit34b,fit34c],[fit35a,fit35b,fit35c],
 [fit36a,fit36b,fit36c],[fit37a,fit37b,fit37c],[fit38a,fit38b,fit38c],[fit39a,fit39b,fit39c],[fit40a,fit40b,fit40c],[fit41a,fit41b,fit41c]];

// ---------- layout ----------
const colLeft = [40, 286, 532, 778, 1025];
const PW = 176, PH = 134, ROW0 = 2, ROWSTEP = 184.1;
const FT = "'DejaVu Sans', Verdana, sans-serif";
const FN = "'Liberation Sans Narrow', 'Liberation Sans', Arial, sans-serif";

function renderErr(params, api) {
  const x = api.value(0), y = api.value(1), e = api.value(2);
  const p1 = api.coord([x, y - e]), p2 = api.coord([x, y + e]);
  const w = 2.8;
  return {type: 'group', children: [
    {type: 'line', shape: {x1: p1[0], y1: p1[1], x2: p2[0], y2: p2[1]}, style: {stroke: '#9a9a9a', lineWidth: 1}},
    {type: 'line', shape: {x1: p1[0]-w, y1: p1[1], x2: p1[0]+w, y2: p1[1]}, style: {stroke: '#666', lineWidth: 1}},
    {type: 'line', shape: {x1: p2[0]-w, y1: p2[1], x2: p2[0]+w, y2: p2[1]}, style: {stroke: '#666', lineWidth: 1}}
  ]};
}

const grids = [], xAxes = [], yAxes = [], series = [], titles = [];
panelNames.forEach((name, i) => {
  const row = Math.floor(i / 5);
  const col = (i === 40) ? 2 : i % 5;
  const left = colLeft[col], top = ROW0 + row * ROWSTEP;
  grids.push({left: left, top: top, width: PW, height: PH, show: true, borderColor: '#000', borderWidth: 1, backgroundColor: 'transparent', containLabel: false});
  const xmax = panelXMax[i], xs = panelXStep[i];
  const minorN = xs === 10 ? 10 : (xs === 5 ? 5 : 4);
  const xBase = {gridIndex: i, type: 'value', min: 0, max: xmax, interval: xs,
    axisLine: {show: false},
    axisTick: {show: true, inside: true, length: 5, lineStyle: {color: '#000', width: 1}},
    minorTick: {show: true, splitNumber: minorN, length: 2.5, lineStyle: {color: '#000', width: 1}},
    splitLine: {show: false}, minorSplitLine: {show: false}};
  xAxes.push(Object.assign({}, xBase, {position: 'bottom',
    axisLabel: {show: true, color: '#000', fontSize: 11, fontFamily: FN, margin: 5, showMaxLabel: (xmax % xs === 0)},
    name: 'r (arcsec)', nameLocation: 'middle', nameGap: 18,
    nameTextStyle: {color: '#000', fontSize: 12.5, fontFamily: FT, verticalAlign: 'top'}}));
  xAxes.push(Object.assign({}, xBase, {position: 'top', axisLabel: {show: false}}));
  const yt = panelYTop[i], yb = panelYBottom[i];
  const labelVals = [], tickVals = [];
  for (let v = Math.ceil(yt + 0.12); v <= yb - 0.05; v++) labelVals.push(v);
  for (let v = Math.ceil(yt * 2 + 0.1) / 2; v <= yb - 0.03; v += 0.5) tickVals.push(v);
  const yBase = {gridIndex: i, type: 'value', min: yt, max: yb, inverse: true,
    axisLine: {show: false},
    axisTick: {show: true, inside: true, length: 4, customValues: tickVals, lineStyle: {color: '#000', width: 1}},
    splitLine: {show: false}};
  yAxes.push(Object.assign({}, yBase, {position: 'left',
    axisLabel: {show: true, color: '#000', fontSize: 11, fontFamily: FN, margin: 4, customValues: labelVals},
    name: '{a|SB  (mag / arcsec}{s|2}{a|)}', nameLocation: 'middle', nameGap: 19, nameRotate: 90,
    nameTextStyle: {color: '#000', fontFamily: FT, verticalAlign: 'bottom',
      rich: {a: {fontSize: 12.5, fontFamily: FT, color: '#000', lineHeight: 17, verticalAlign: 'bottom'},
             s: {fontSize: 9.5, fontFamily: FT, color: '#000', lineHeight: 17, verticalAlign: 'top'}}}}));
  yAxes.push(Object.assign({}, yBase, {position: 'right', axisLabel: {show: false}}));
  const xi = 2 * i, yi = 2 * i;
  panelFits[i].forEach(f => {
    series.push({type: 'line', xAxisIndex: xi, yAxisIndex: yi, data: f, smooth: 0.4, showSymbol: false, symbol: 'none',
      clip: true, silent: true, lineStyle: {color: '#111', width: 0.9}, z: 2});
  });
  series.push({type: 'custom', xAxisIndex: xi, yAxisIndex: yi, data: panelPoints[i], renderItem: renderErr,
    encode: {x: 0, y: 1}, clip: true, silent: true, z: 3});
  series.push({type: 'scatter', xAxisIndex: xi, yAxisIndex: yi, data: panelPoints[i].map(p => [p[0], p[1]]),
    symbolSize: 6, itemStyle: {color: '#000'}, clip: true, silent: true, z: 4});
  titles.push({text: name + '  r', left: left + 68, top: top + 10, padding: 0,
    textStyle: {fontSize: 12.5, fontWeight: 'normal', fontFamily: FT, color: '#000'}});
});

const chart = echarts.init(document.getElementById('c'), null, {renderer: 'canvas'});
chart.setOption({animation: false, backgroundColor: '#fff', title: titles, grid: grids, xAxis: xAxes, yAxis: yAxes, series: series});
</script></body></html>
